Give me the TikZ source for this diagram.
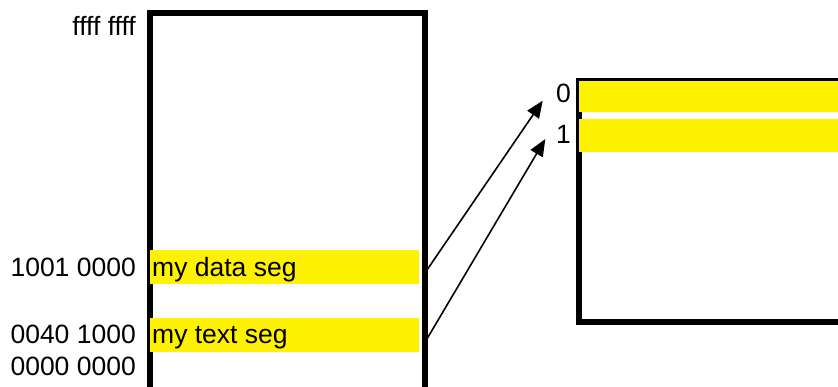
\documentclass[tikz,border=0pt]{standalone}
\usepackage{fontspec}
\setmainfont{Liberation Sans}
\usetikzlibrary{arrows.meta}
\begin{document}
\begin{tikzpicture}[x=1pt,y=-1pt,
  lbl/.style={anchor=base east,inner sep=0pt,font=\fontsize{26.5}{30}\selectfont},
  segtxt/.style={anchor=base west,inner sep=0pt,font=\fontsize{26.5}{30}\selectfont},
  band/.style={fill=yellow,draw=none,inner sep=0pt,anchor=north west},
  memline/.style={draw=black,line width=6pt},
  ptr/.style={draw=black,line width=1.6pt,-{Triangle[length=17pt,width=14pt]}}]
\useasboundingbox (0,0) rectangle (838,386);
% left memory box
\node[memline,minimum width=275pt,minimum height=380pt,inner sep=0pt,anchor=north west] (mem) at (147,10) {};
\node[band,minimum width=269pt,minimum height=34pt] (data) at (150,250) {};
\node[band,minimum width=269pt,minimum height=34pt] (text) at (150,318) {};
\node[segtxt] (datatxt) at (152,276) {my data seg};
\node[segtxt] (texttxt) at (152,343) {my text seg};
\node[lbl] (a1) at (136,35) {ffff ffff};
\node[lbl] (a2) at (136,276) {1001 0000};
\node[lbl] (a3) at (136,343) {0040 1000};
\node[lbl] (a4) at (136,375) {0000 0000};
% right table box
\node[memline,minimum width=290pt,minimum height=241pt,inner sep=0pt,anchor=north west] (tab) at (576,78) {};
\node[band,minimum width=262pt,minimum height=30.5pt] (e0) at (579,81) {};
\node[band,minimum width=262pt,minimum height=33.5pt] (e1) at (579,118.3) {};
\node[lbl] (n0) at (571,102.7) {0};
\node[lbl] (n1) at (571,143.3) {1};
% pointers
\coordinate (t0) at (542.7,100.7);
\coordinate (t1) at (545.3,139);
\draw[ptr] ([xshift=4pt,yshift=-8pt]data.east) -- (t0);
\draw[ptr] ([xshift=5pt,yshift=-8pt]text.east) -- (t1);
\end{tikzpicture}
\end{document}
